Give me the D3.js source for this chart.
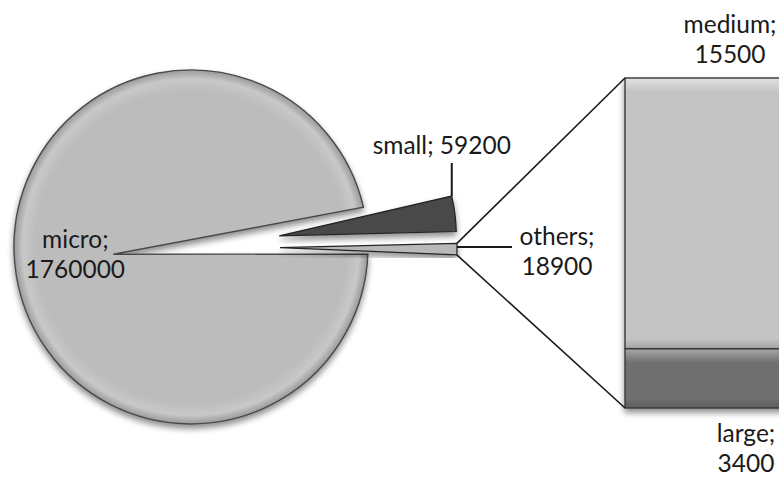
<!DOCTYPE html>
<html>
<head>
<meta charset="utf-8">
<script src="https://cdn.jsdelivr.net/npm/d3@7"></script>
<style>
  html, body { margin: 0; padding: 0; background: #fff; }
  svg { display: block; }
  text { font-family: Lato, "Open Sans", sans-serif; fill: #1a1a1a; }
</style>
</head>
<body>
<svg id="chart" width="779" height="477"></svg>
<script>
// Pie part: micro, small and the combined "others" slice
const pieCategories = ["micro", "small", "others"];
const pieValues = [1760000, 59200, 18900];
// Breakdown of "others" shown in the stacked bar (bottom to top)
const barCategories = ["large", "medium"];
const barValues = [3400, 15500];

const W = 779, H = 477;
const cx = 191, cy = 247, R = 177;
const microExplode = 78, restExplode = 89;
const firstSliceAngle = 92.3 * Math.PI / 180;
const barX = 625, barTop = 78, barBottom = 408, barW = 260;
const fontSize = 24.5, lineH = 30;

const svg = d3.select("#chart");
const defs = svg.append("defs");

// soft shadow under shapes
const sh = defs.append("filter").attr("id", "shadow")
  .attr("x", "-20%").attr("y", "-20%").attr("width", "140%").attr("height", "140%");
sh.append("feGaussianBlur").attr("in", "SourceAlpha").attr("stdDeviation", 3).attr("result", "b");
sh.append("feOffset").attr("in", "b").attr("dx", 0).attr("dy", 4).attr("result", "o");
sh.append("feComponentTransfer").attr("in", "o").attr("result", "s")
  .append("feFuncA").attr("type", "linear").attr("slope", 0.45);
const mg = sh.append("feMerge");
mg.append("feMergeNode").attr("in", "s");
mg.append("feMergeNode").attr("in", "SourceGraphic");

// rim gradient for the round slices
function rimGradient(id, x, y, base, rim, edge) {
  const g = defs.append("radialGradient").attr("id", id)
    .attr("gradientUnits", "userSpaceOnUse")
    .attr("cx", x).attr("cy", y).attr("r", R);
  g.append("stop").attr("offset", 0).attr("stop-color", base);
  g.append("stop").attr("offset", 0.88).attr("stop-color", base);
  g.append("stop").attr("offset", 0.95).attr("stop-color", rim);
  g.append("stop").attr("offset", 1).attr("stop-color", edge);
}

const pie = d3.pie().sort(null).value(d => d)
  .startAngle(firstSliceAngle).endAngle(firstSliceAngle + 2 * Math.PI);
const arcsData = pie(pieValues);

const polar = (ox, oy, r, a) => [ox + r * Math.sin(a), oy - r * Math.cos(a)];

// ---- micro slice: arc around the pie centre, mouth pushed out to the left
const mic = arcsData[0];
const mb = (mic.startAngle + mic.endAngle) / 2;
const apex = polar(cx, cy, microExplode, mb);
rimGradient("gMicro", cx, cy, "#bcbcbc", "#c8c8c8", "#9a9a9a");
const mp = d3.path();
mp.moveTo(apex[0], apex[1]);
const ms = polar(cx, cy, R, mic.startAngle);
mp.lineTo(ms[0], ms[1]);
mp.arc(cx, cy, R, mic.startAngle - Math.PI / 2, mic.endAngle - Math.PI / 2, false);
mp.closePath();
svg.append("path").attr("d", mp.toString())
  .attr("fill", "url(#gMicro)")
  .attr("stroke", "#4a4a4a").attr("stroke-width", 1.4)
  .attr("filter", "url(#shadow)");

// ---- small and others slices, pulled out to the right
const arcGen = d3.arc().innerRadius(0).outerRadius(R);
const sliceFill = { small: ["#141414", "#2a2a2a", "#4a4a4a"], others: ["#d6d6d6", "#e4e4e4", "#b8b8b8"] };
const centres = {};
[1, 2].forEach(i => {
  const d = arcsData[i];
  const name = pieCategories[i];
  const b = (d.startAngle + d.endAngle) / 2;
  const c = polar(0, 0, restExplode, b);
  centres[name] = [cx + c[0], cy + c[1], d];
  const f = sliceFill[name];
  rimGradient("g" + name, cx + c[0], cy + c[1], f[0], f[1], f[2]);
  svg.append("path")
    .attr("transform", `translate(${cx + c[0]},${cy + c[1]})`)
    .attr("d", arcGen(d))
    .attr("fill", `url(#g${name})`)
    .attr("stroke", "#222").attr("stroke-width", 1.2)
    .attr("filter", "url(#shadow)");
});

// ---- stacked bar for the "others" breakdown
const total = d3.sum(barValues);
const y = d3.scaleLinear().domain([0, total]).range([barBottom, barTop]);
const stacked = d3.stack().keys(barCategories)([Object.fromEntries(barCategories.map((k, i) => [k, barValues[i]]))]);
const barFill = { medium: "#c4c4c4", large: "#707070" };
const barHi = { medium: "#e2e2e2", large: "#a8a8a8" };
const barG = svg.append("g").attr("filter", "url(#shadow)");
stacked.forEach(s => {
  const k = s.key, v = s[0];
  const y0 = y(v[1]), y1 = y(v[0]);
  const gid = "bar" + k;
  const g = defs.append("linearGradient").attr("id", gid)
    .attr("gradientUnits", "userSpaceOnUse")
    .attr("x1", 0).attr("x2", 0).attr("y1", y0).attr("y2", y1);
  const hh = 14 / (y1 - y0), bb = 10 / (y1 - y0);
  g.append("stop").attr("offset", 0).attr("stop-color", barHi[k]);
  g.append("stop").attr("offset", hh).attr("stop-color", barFill[k]);
  g.append("stop").attr("offset", 1 - bb).attr("stop-color", barFill[k]);
  g.append("stop").attr("offset", 1).attr("stop-color", d3.color(barFill[k]).darker(0.5));
  barG.append("rect")
    .attr("x", barX).attr("y", y0).attr("width", barW).attr("height", y1 - y0)
    .attr("fill", `url(#${gid})`)
    .attr("stroke", "#3a3a3a").attr("stroke-width", 1.4);
});

// ---- connector lines from the others slice to the bar
const [ox, oy, od] = centres.others;
const oTop = polar(ox, oy, R, od.startAngle);
const oBot = polar(ox, oy, R, od.endAngle);
svg.append("line").attr("x1", oTop[0]).attr("y1", oTop[1]).attr("x2", barX).attr("y2", y(total))
  .attr("stroke", "#1a1a1a").attr("stroke-width", 1.6);
svg.append("line").attr("x1", oBot[0]).attr("y1", oBot[1]).attr("x2", barX).attr("y2", y(0))
  .attr("stroke", "#1a1a1a").attr("stroke-width", 1.6);

// ---- data labels
function label(lines, x, yBase, anchor) {
  const t = svg.append("text").attr("font-size", fontSize).attr("text-anchor", anchor || "middle");
  lines.forEach((s, i) => t.append("tspan").attr("x", x).attr("y", yBase + i * lineH).text(s));
}
const fmt = d3.format("d");

// micro
label([pieCategories[0] + ";", fmt(pieValues[0])], apex[0] - 38, 248);

// small, with vertical leader
const [sx, sy, sd] = centres.small;
const sTop = polar(sx, sy, R, sd.startAngle);
svg.append("line").attr("x1", sTop[0]).attr("y1", sTop[1]).attr("x2", sTop[0]).attr("y2", 163)
  .attr("stroke", "#1a1a1a").attr("stroke-width", 2);
label([pieCategories[1] + "; " + fmt(pieValues[1])], sTop[0] - 10, 154);

// others, with horizontal leader
const oMid = polar(ox, oy, R, (od.startAngle + od.endAngle) / 2);
svg.append("line").attr("x1", oMid[0]).attr("y1", oMid[1] - 2).attr("x2", 512).attr("y2", oMid[1] - 2)
  .attr("stroke", "#1a1a1a").attr("stroke-width", 2);
label([pieCategories[2] + ";", fmt(pieValues[2])], 557, 245);

// bar segments
label([barCategories[1] + ";", fmt(barValues[1])], barX + 105, 33);
label([barCategories[0] + ";", fmt(barValues[0])], barX + 121, 442);
</script>
</body>
</html>
